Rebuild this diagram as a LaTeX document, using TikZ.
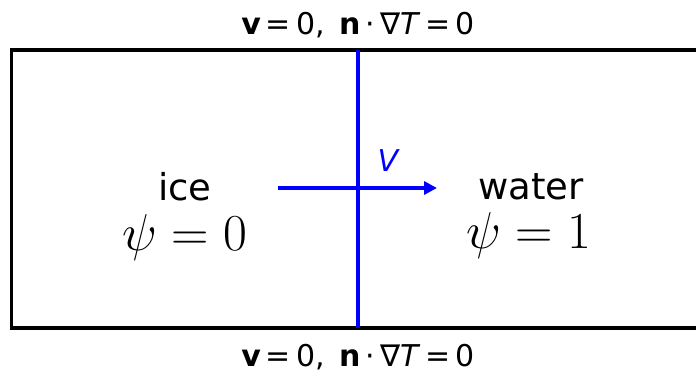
\documentclass[tikz,border=0pt]{standalone}
\usepackage{fontspec}
\setmainfont{DejaVu Sans}
\usetikzlibrary{arrows.meta}
\tikzset{
  frame/.style={line width=3.5pt, black},
  front/.style={line width=3.5pt, blue},
  lbl/.style={inner sep=0pt, font=\fontsize{30}{34}\selectfont},
  phase/.style={inner sep=0pt, font=\fontsize{37}{42}\selectfont},
  phi/.style={inner sep=0pt, font=\fontsize{20}{24}\selectfont, scale=2.5},
}
\begin{document}
\begin{tikzpicture}[x=1pt,y=-1pt]
\useasboundingbox (0,0) rectangle (696,373);
\clip (0,0) rectangle (696,373);
\draw[frame] (710,50) -- (11.5,50) -- (11.5,328) -- (710,328);
\coordinate (ftop) at (358,50);
\coordinate (fbot) at (358,328);
\draw[front] (ftop) -- (fbot);
\coordinate (a0) at (278,188);
\coordinate (a1) at (437,188);
\draw[front, -{Triangle[length=13pt,width=13pt]}] (a0) -- (a1);
\node[lbl, text=blue] (vel) at (388,161) {\itshape V};
\node[lbl] (top) at (358,25) {\textbf{v}\,=\,0,\, \textbf{n}\,·\,∇\textit{T}\,=\,0};
\node[lbl] (bot) at (358,357) {\textbf{v}\,=\,0,\, \textbf{n}\,·\,∇\textit{T}\,=\,0};
\node[phase] (ice) at (185,187) {ice};
\node[phi] (psi0) at (185,238) {$\psi=0$};
\node[phase] (water) at (531,187) {water};
\node[phi] (psi1) at (529,236) {$\psi=1$};
\end{tikzpicture}
\end{document}
